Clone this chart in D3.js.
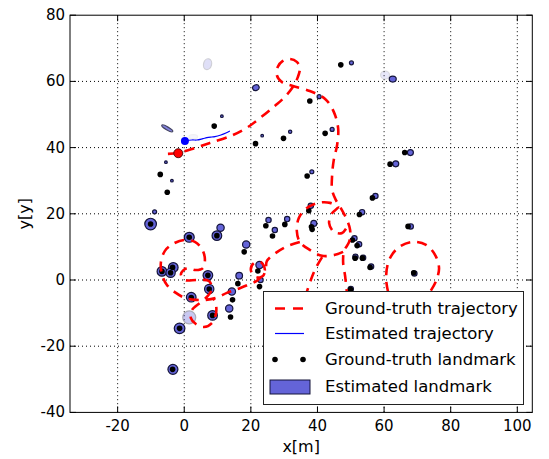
<!DOCTYPE html>
<html>
<head>
<meta charset="utf-8">
<script src="https://cdn.jsdelivr.net/npm/d3@7"></script>
<style>
  body { margin: 0; background: #fff; }
  text { font-family: "DejaVu Sans", sans-serif; fill: #000; }
</style>
</head>
<body>
<svg id="chart" width="549" height="459"></svg>
<script>
// Ground-truth trajectory, as pieces of polyline [x, y] in metres
const gtPath1 = [[-4.9,38.1],[-1.9,38.4],[3.2,39.9],[7.7,41.4],[14.6,43.8],[19.1,46.2],[22.7,48.9],[27.2,52.6],[30.2,55.3],[32.6,58.3],[34.1,61.3],[34.7,64.0],[33.8,65.9],[31.7,66.8],[29.6,66.2],[28.1,64.4],[27.8,61.9],[29.3,59.8],[32.6,58.6],[37.7,57.1],[42.3,54.7],[44.9,50.8],[46.2,45.9],[45.9,40.8],[44.9,36.3],[44.4,31.7],[44.4,27.2],[45.5,24.2],[46.8,22.1],[48.6,18.7],[49.8,15.1],[49.5,11.5],[48.0,8.8],[47.7,5.4],[48.3,1.2],[48.9,-4.5]];
const gtPath2 = [[47.7,8.5],[45.3,7.6],[41.4,7.3],[37.7,9.1],[34.7,11.5],[33.8,14.8],[34.4,18.7],[36.5,21.5],[40.2,23.3],[43.8,23.3],[46.2,22.1],[44.4,20.2],[43.5,17.2],[45.0,14.5],[47.4,14.2],[48.9,16.0]];
const gtPath3 = [[34.7,11.5],[31.1,10.3],[27.5,8.2],[24.8,5.7],[24.5,3.6],[23.6,1.2],[21.5,0.9],[20.0,3.0],[20.9,5.1],[23.0,5.4],[24.2,3.0],[22.1,0.0],[19.1,-1.5],[16.1,-2.7],[12.8,-3.9],[9.5,-5.4],[6.5,-6.0],[3.5,-6.0],[0.2,-5.4],[-2.5,-3.9],[-5.2,-1.5],[-6.7,1.8],[-7.0,5.4],[-5.8,8.8],[-3.4,10.9],[-0.1,12.1],[3.2,11.5],[5.3,9.4],[6.2,6.3],[5.6,3.6],[3.5,3.0],[0.8,3.6],[-1.0,1.8],[0.2,0.0],[3.8,0.0],[7.4,-0.3],[8.3,-2.7],[6.8,-5.1],[4.7,-6.9],[2.3,-9.1],[2.0,-11.5],[3.5,-13.3],[5.9,-14.2],[8.3,-13.0],[9.5,-10.3],[9.5,-7.3],[8.6,-5.4]];
const gtPath4 = [[61.2,-3.6],[60.6,0.6],[61.5,6.0],[64.2,9.7],[68.4,11.5],[72.6,10.6],[75.3,7.6],[76.5,3.6],[75.6,-0.3],[73.8,-3.6]];
const gtPath5 = [[41.4,6.9],[39.5,3.6],[38.0,0.0],[36.8,-3.6]];
const gtPaths = [gtPath1, gtPath2, gtPath3, gtPath4, gtPath5];

// Estimated trajectory
const estPath = [[0.2,42.0],[2.3,42.3],[3.8,42.3],[5.6,42.7],[6.8,43.0],[8.3,43.2],[9.2,43.3],[11.0,43.8],[12.5,44.4],[13.7,45.0]];
const gtStart = [-1.8, 38.3];
const estStart = [0.2, 42.0];

// Ground-truth landmarks
const gtLmX = [47.0,37.7,9.0,29.8,21.4,42.3,-7.2,-5.1,36.9,61.8,66.2,56.5,52.6,37.4,-10.1,1.5,9.8,18.0,24.5,26.5,30.2,38.2,38.4,50.5,51.9,51.3,53.5,55.8,67.2,68.9,49.9,22.1,22.6,16.1,14.5,13.9,-6.7,-3.5,-4.1,7.1,7.5,2.1,8.5,-1.4,-3.5];
const gtLmY = [65.0,54.1,46.5,42.8,41.2,44.3,31.9,26.5,31.4,35.0,38.5,24.8,19.8,20.9,16.9,12.9,13.4,8.5,16.4,13.3,16.8,16.1,15.3,12.1,10.4,6.6,6.6,3.8,16.2,2.2,-2.9,2.7,-2.0,-1.1,-6.0,-11.2,2.6,3.8,2.2,1.4,-2.7,-5.3,-10.7,-14.6,-27.0];

// Estimated landmarks: mean, covariance semi-axes (m), orientation (deg), weight
const estX  = [50.2,62.6,60.3,21.5,40.5,44.4,11.3,23.4,31.8,7.0,-5.1,2.7,-5.5,-3.7,38.3,63.5,67.9,57.4,53.4,-8.9,-10.1,1.5,10.9,9.8,18.6,25.3,27.2,30.9,38.0,38.9,51.1,52.5,51.4,53.7,56.1,68.0,69.1,50.0,22.6,22.9,16.5,14.3,13.5,-6.7,-3.3,-4.1,7.1,7.5,2.1,8.5,1.5,-1.4,-3.4];
const estY  = [65.6,60.7,61.9,58.1,55.4,45.5,49.5,43.6,44.8,65.2,45.8,43.3,35.6,30.0,32.7,35.1,38.5,25.4,20.5,20.6,16.9,12.9,15.8,13.4,10.7,18.1,15.1,18.4,22.4,17.1,12.6,10.8,7.0,6.7,4.1,16.2,2.0,-2.7,4.5,0.0,1.3,-3.5,-8.6,2.6,3.8,2.2,1.4,-2.7,-5.2,-10.7,-11.3,-14.6,-27.0];
const estRx = [0.6,1.05,1.35,1.0,0.6,0.6,0.4,0.4,0.5,1.2,1.9,1.3,0.4,0.4,0.6,0.9,0.9,0.8,0.8,0.6,1.75,1.5,1.1,1.45,1.1,0.8,0.8,0.8,0.8,0.9,0.8,0.8,0.8,0.8,0.8,0.8,0.8,0.8,1.1,0.8,1.0,1.1,1.1,1.45,1.45,1.4,1.45,1.4,1.45,1.45,1.95,1.6,1.5];
const estRy = [0.6,0.9,1.2,0.85,0.6,0.6,0.4,0.4,0.5,1.65,0.45,0.6,0.4,0.4,0.6,0.9,0.9,0.8,0.8,0.6,1.75,1.5,1.1,1.45,1.1,0.8,0.8,0.8,0.8,0.9,0.8,0.8,0.8,0.8,0.8,0.8,0.8,0.8,1.1,0.8,1.0,1.1,1.1,1.45,1.45,1.4,1.45,1.4,1.45,1.45,1.95,1.6,1.5];
const estAng = [0,0,0,20,0,0,0,0,0,-15,-30,0,0,0,0,0,0,0,0,0,0,0,0,0,0,0,0,0,0,0,0,0,0,0,0,0,0,0,0,0,0,0,0,0,0,0,0,0,0,0,0,0,0];
const estW  = [1,1,0.15,1,1,1,1,1,1,0.2,0.8,0.06,1,1,1,1,1,1,1,1,1,1,1,1,1,1,1,1,1,1,1,1,1,1,1,1,1,1,1,1,1,1,1,1,1,1,1,1,1,1,0.35,1,1];

const xTicks = [-20, 0, 20, 40, 60, 80, 100];
const yTicks = [-40, -20, 0, 20, 40, 60, 80];
const legendLabels = ["Ground-truth trajectory", "Estimated trajectory", "Ground-truth landmark", "Estimated landmark"];

const plot = { left: 70, right: 532.3, top: 15.2, bottom: 412.4 };
const ellipseFill = "#6464d8";
const ellipseEdge = "#14143a";

const svg = d3.select("#chart");

const x = d3.scaleLinear().domain([-34.3, 104.5]).range([plot.left, plot.right]);
const y = d3.scaleLinear().domain([-40, 80]).range([plot.bottom, plot.top]);

svg.append("defs").append("clipPath").attr("id", "clip")
    .append("rect")
    .attr("x", plot.left).attr("y", plot.top)
    .attr("width", plot.right - plot.left).attr("height", plot.bottom - plot.top);

// Dotted grid
const grid = svg.append("g");
grid.selectAll(".gx").data(xTicks).enter().append("line")
    .attr("x1", d => x(d)).attr("x2", d => x(d))
    .attr("y1", plot.top).attr("y2", plot.bottom)
    .attr("stroke", "#000").attr("stroke-width", 1).attr("stroke-dasharray", "1,3");
grid.selectAll(".gy").data(yTicks.filter(d => d > -40 && d < 80)).enter().append("line")
    .attr("x1", plot.left).attr("x2", plot.right)
    .attr("y1", d => y(d)).attr("y2", d => y(d))
    .attr("stroke", "#000").attr("stroke-width", 1).attr("stroke-dasharray", "1,3");

const body = svg.append("g").attr("clip-path", "url(#clip)");

// Estimated landmarks (covariance ellipses, alpha = weight)
const est = estX.map((d, i) => ({ x: d, y: estY[i], rx: estRx[i], ry: estRy[i], a: estAng[i], w: estW[i] }));
body.selectAll(".est").data(est).enter().append("ellipse")
    .attr("cx", d => x(d.x)).attr("cy", d => y(d.y))
    .attr("rx", d => x(d.x + d.rx) - x(d.x))
    .attr("ry", d => y(d.y) - y(d.y + d.ry))
    .attr("transform", d => `rotate(${-d.a},${x(d.x)},${y(d.y)})`)
    .attr("fill", ellipseFill)
    .attr("stroke", ellipseEdge)
    .attr("stroke-width", 1.2)
    .attr("opacity", d => d.w);

// Ground-truth landmarks
body.selectAll(".gt").data(gtLmX.map((d, i) => [d, gtLmY[i]])).enter().append("circle")
    .attr("cx", d => x(d[0])).attr("cy", d => y(d[1]))
    .attr("r", 2.8).attr("fill", "#000");

// Trajectories
const line = d3.line().x(d => x(d[0])).y(d => y(d[1])).curve(d3.curveCatmullRom);
body.selectAll(".gtpath").data(gtPaths).enter().append("path")
    .attr("d", line)
    .attr("fill", "none").attr("stroke", "#ff0000")
    .attr("stroke-width", 2.6).attr("stroke-dasharray", "10,7");

body.append("path").datum(estPath)
    .attr("d", line)
    .attr("fill", "none").attr("stroke", "#0000ff").attr("stroke-width", 1.2);

body.append("circle").attr("cx", x(gtStart[0])).attr("cy", y(gtStart[1]))
    .attr("r", 4.5).attr("fill", "#ff0000").attr("stroke", "#330000").attr("stroke-width", 0.8);
body.append("circle").attr("cx", x(estStart[0])).attr("cy", y(estStart[1]))
    .attr("r", 4).attr("fill", "#0000ff");

// Frame and ticks
svg.append("rect")
    .attr("x", plot.left).attr("y", plot.top)
    .attr("width", plot.right - plot.left).attr("height", plot.bottom - plot.top)
    .attr("fill", "none").attr("stroke", "#000").attr("stroke-width", 1);

const ticks = svg.append("g").attr("stroke", "#000").attr("stroke-width", 1);
xTicks.forEach(t => {
    ticks.append("line").attr("x1", x(t)).attr("x2", x(t)).attr("y1", plot.bottom).attr("y2", plot.bottom - 6);
    ticks.append("line").attr("x1", x(t)).attr("x2", x(t)).attr("y1", plot.top).attr("y2", plot.top + 6);
});
yTicks.forEach(t => {
    ticks.append("line").attr("x1", plot.left).attr("x2", plot.left + 6).attr("y1", y(t)).attr("y2", y(t));
    ticks.append("line").attr("x1", plot.right).attr("x2", plot.right - 6).attr("y1", y(t)).attr("y2", y(t));
});

svg.selectAll(".xl").data(xTicks).enter().append("text")
    .attr("x", d => x(d)).attr("y", plot.bottom + 19)
    .attr("text-anchor", "middle").attr("font-size", 15)
    .text(d => d);
svg.selectAll(".yl").data(yTicks).enter().append("text")
    .attr("x", plot.left - 5).attr("y", d => y(d))
    .attr("text-anchor", "end").attr("dominant-baseline", "central").attr("font-size", 15)
    .text(d => d);

svg.append("text").attr("x", (plot.left + plot.right) / 2).attr("y", 452)
    .attr("text-anchor", "middle").attr("font-size", 16).text("x[m]");
svg.append("text").attr("transform", `translate(30,${(plot.top + plot.bottom) / 2}) rotate(-90)`)
    .attr("text-anchor", "middle").attr("font-size", 16).text("y[y]");

// Legend
const lg = svg.append("g");
lg.append("rect").attr("x", 263.5).attr("y", 291.5).attr("width", 260).attr("height", 113)
    .attr("fill", "#fff").attr("stroke", "#222").attr("stroke-width", 1);
const rowY = [308.5, 333.5, 359.5, 386];
lg.append("line").attr("x1", 275).attr("x2", 304).attr("y1", rowY[0]).attr("y2", rowY[0])
    .attr("stroke", "#ff0000").attr("stroke-width", 2.6).attr("stroke-dasharray", "10,8");
lg.append("line").attr("x1", 275).attr("x2", 304).attr("y1", rowY[1]).attr("y2", rowY[1])
    .attr("stroke", "#0000ff").attr("stroke-width", 1.2);
[275, 303].forEach(cx => lg.append("circle").attr("cx", cx).attr("cy", rowY[2]).attr("r", 2.8).attr("fill", "#000"));
lg.append("rect").attr("x", 270).attr("y", 380).attr("width", 40).attr("height", 14)
    .attr("fill", ellipseFill).attr("stroke", ellipseEdge).attr("stroke-width", 1);
lg.selectAll(".lt").data(legendLabels).enter().append("text")
    .attr("x", 325).attr("y", (d, i) => rowY[i])
    .attr("dominant-baseline", "central").attr("font-size", 16.5)
    .text(d => d);
</script>
</body>
</html>
